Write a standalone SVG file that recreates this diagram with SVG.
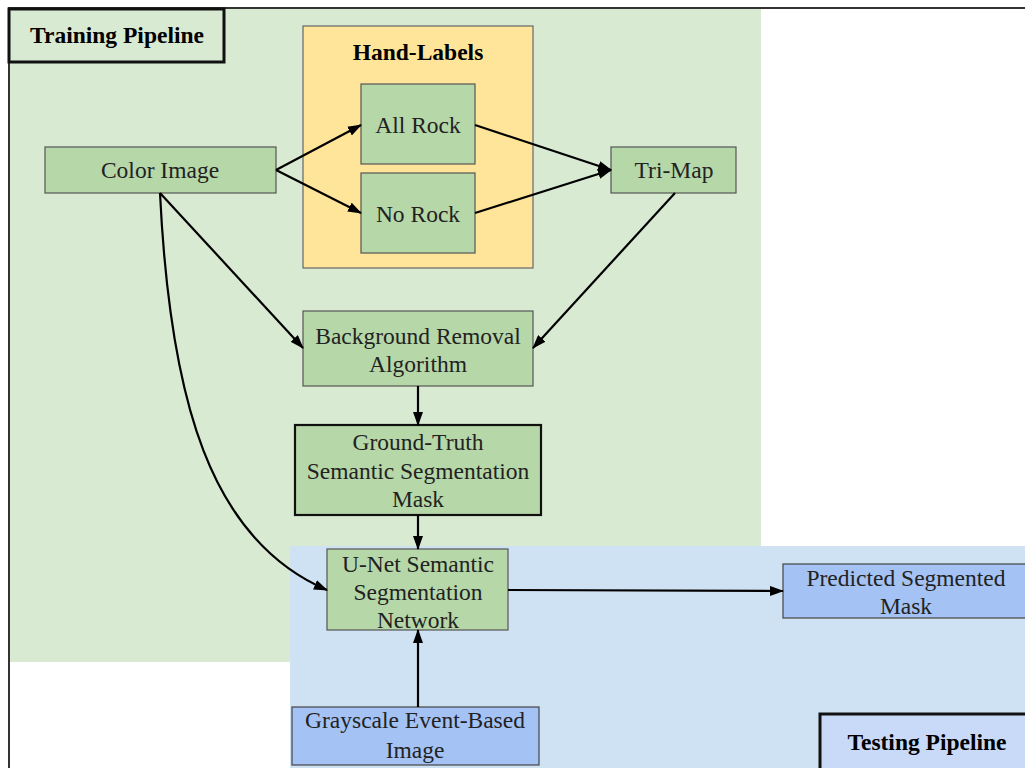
<svg xmlns="http://www.w3.org/2000/svg" width="1025" height="768" viewBox="0 0 1025 768">
<defs>
<marker id="ah" markerWidth="14" markerHeight="10" refX="13" refY="5" orient="auto" markerUnits="userSpaceOnUse">
<path d="M0,0 L14,5 L0,10 z" fill="#000"/>
</marker>
<style>
.t{font-family:"Liberation Serif","Times New Roman",serif;font-size:23.5px;fill:#222;text-anchor:middle}
.b{font-weight:bold;fill:#000}
.gn{fill:#b6d7a8;stroke:#555;stroke-width:1.2}
.bn{fill:#a4c2f4;stroke:#444;stroke-width:1.2}
.c{fill:none;stroke:#000;stroke-width:2.2;marker-end:url(#ah)}
</style>
</defs>
<rect width="1025" height="768" fill="#fff"/>
<g id="training-bg">
<rect x="9" y="8" width="752" height="654" fill="#d9ead3"/>
</g>
<g id="testing-bg">
<rect x="290" y="546" width="735" height="222" fill="#cfe2f3"/>
</g>
<g id="frame">
<line x1="8" y1="8" x2="1025" y2="8" stroke="#333" stroke-width="2"/>
<line x1="9" y1="8" x2="9" y2="768" stroke="#333" stroke-width="2"/>
</g>
<g id="training-label">
<rect x="9" y="9" width="215" height="53" fill="#d9ead3" stroke="#111" stroke-width="3"/>
<text class="t b" x="117" y="43">Training Pipeline</text>
</g>
<g id="hand-labels">
<rect x="303" y="26" width="230" height="242" fill="#ffe599" stroke="#666" stroke-width="1.2"/>
<text class="t b" x="418" y="60">Hand-Labels</text>
</g>
<g id="all-rock">
<rect class="gn" x="361" y="84" width="114" height="80"/>
<text class="t" x="418" y="133">All Rock</text>
</g>
<g id="no-rock">
<rect class="gn" x="361" y="173" width="114" height="80"/>
<text class="t" x="418" y="222">No Rock</text>
</g>
<g id="color-image">
<rect class="gn" x="45" y="147" width="231" height="46"/>
<text class="t" x="160" y="178">Color Image</text>
</g>
<g id="tri-map">
<rect class="gn" x="611" y="147" width="125" height="46"/>
<text class="t" x="674" y="178">Tri-Map</text>
</g>
<g id="background-removal">
<rect class="gn" x="303" y="311" width="230" height="75"/>
<text class="t" x="418" y="344">Background Removal</text>
<text class="t" x="418" y="372">Algorithm</text>
</g>
<g id="ground-truth">
<rect x="295" y="425" width="246" height="90" fill="#b6d7a8" stroke="#111" stroke-width="2.2"/>
<text class="t" x="418" y="450">Ground-Truth</text>
<text class="t" x="418" y="479">Semantic Segmentation</text>
<text class="t" x="418" y="507">Mask</text>
</g>
<g id="unet">
<rect class="gn" x="327" y="549" width="181" height="81"/>
<text class="t" x="418" y="572">U-Net Semantic</text>
<text class="t" x="418" y="600">Segmentation</text>
<text class="t" x="418" y="628">Network</text>
</g>
<g id="predicted">
<rect class="bn" x="783" y="564" width="250" height="54"/>
<text class="t" x="906" y="586">Predicted Segmented</text>
<text class="t" x="906" y="614">Mask</text>
</g>
<g id="grayscale">
<rect class="bn" x="292" y="707" width="247" height="58"/>
<text class="t" x="415" y="728">Grayscale Event-Based</text>
<text class="t" x="415" y="758">Image</text>
</g>
<g id="testing-label">
<rect x="820" y="714" width="215" height="60" fill="#c9daf8" stroke="#111" stroke-width="3"/>
<text class="t b" x="927" y="750">Testing Pipeline</text>
</g>
<g id="connectors">
<path class="c" d="M276,170 L361,125"/>
<path class="c" d="M276,170 L361,213"/>
<path class="c" d="M475,125 L611,170"/>
<path class="c" d="M475,213 L611,170"/>
<path class="c" d="M160,193 L303,348"/>
<path class="c" d="M675,193 L533,348"/>
<path class="c" d="M418,386 L418,425"/>
<path class="c" d="M418,515 L418,549"/>
<path class="c" d="M160,193 C170,400 210,540 327,590"/>
<path class="c" d="M508,590 L783,591"/>
<path class="c" d="M418,707 L418,630"/>
</g>
</svg>
